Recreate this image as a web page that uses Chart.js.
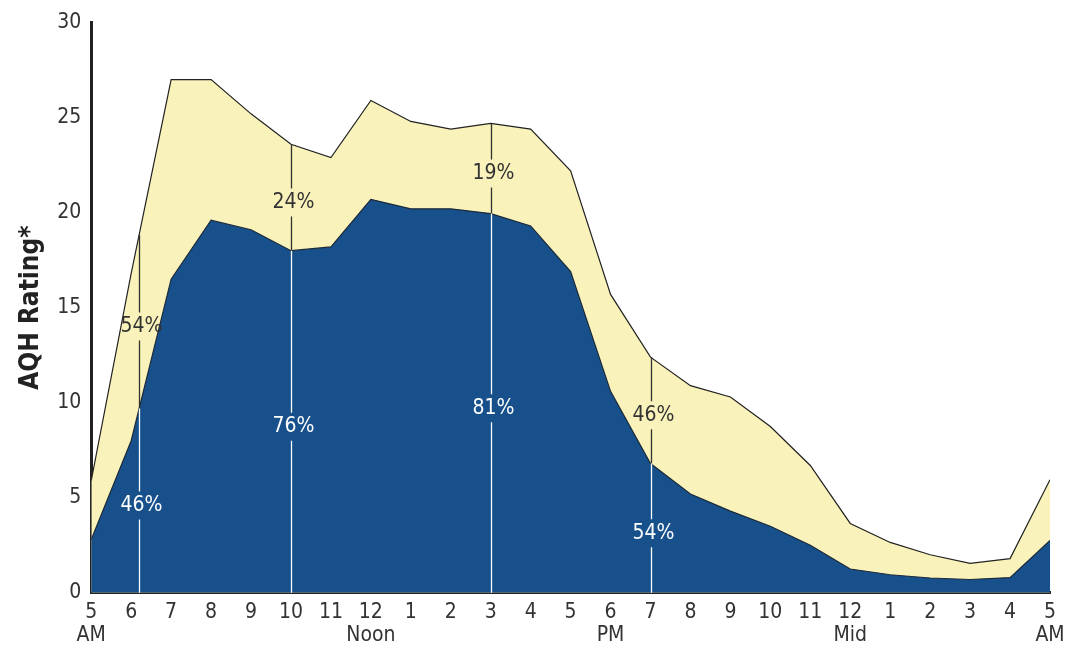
<!DOCTYPE html>
<html>
<head>
<meta charset="utf-8">
<script src="https://cdn.jsdelivr.net/npm/chart.js@4/dist/chart.umd.min.js"></script>
<style>
  body { margin: 0; background: #fff; }
  #wrap { width: 1077px; height: 655px; }
</style>
</head>
<body>
<div id="wrap"><canvas id="chart"></canvas></div>
<script>
const hourLabels = ['5','6','7','8','9','10','11','12','1','2','3','4','5','6','7','8','9','10','11','12','1','2','3','4','5'];
const periodLabels = ['AM','','','','','','','Noon','','','','','','PM','','','','','','Mid','','','','','AM'];
const totalRating = [5.9,16.8,27.0,27.0,25.2,23.6,22.9,25.9,24.8,24.4,24.7,24.4,22.2,15.7,12.4,10.9,10.3,8.75,6.7,3.65,2.65,2.0,1.55,1.8,5.95];
const homeRating = [2.8,8.0,16.5,19.6,19.1,18.0,18.2,20.7,20.2,20.2,19.95,19.3,16.9,10.6,6.8,5.2,4.3,3.5,2.5,1.25,0.95,0.78,0.7,0.8,2.75];
const markerHours = [1.2, 5, 10, 14];
const markerTopPct = ['54%', '24%', '19%', '46%'];
const markerBottomPct = ['46%', '76%', '81%', '54%'];

const FONT = "'Liberation Sans Narrow', 'DejaVu Sans Condensed', 'Liberation Sans', sans-serif";
const toPts = arr => arr.map((v, i) => ({ x: i, y: v }));
const interp = (arr, h) => {
  const i = Math.floor(h), f = h - i;
  return i >= arr.length - 1 ? arr[arr.length - 1] : arr[i] + (arr[i + 1] - arr[i]) * f;
};

// vertical share markers, line broken behind the text
const markerPlugin = {
  id: 'markers',
  afterDatasetsDraw(chart) {
    const { ctx, scales: { x, y } } = chart;
    ctx.save();
    ctx.font = '21px ' + FONT;
    ctx.textAlign = 'center';
    ctx.textBaseline = 'middle';
    markerHours.forEach((h, k) => {
      const px = Math.round(x.getPixelForValue(h)) + 0.5;
      const top = interp(totalRating, h), mid = interp(homeRating, h);
      const segs = [
        { from: y.getPixelForValue(top), to: y.getPixelForValue(mid), lab: markerTopPct[k], col: '#333' },
        { from: y.getPixelForValue(mid), to: y.getPixelForValue(0), lab: markerBottomPct[k], col: '#fff' }
      ];
      segs.forEach(s => {
        const ty = (s.from + s.to) / 2 + 5;
        const gap = 14;
        ctx.strokeStyle = s.col;
        ctx.lineWidth = 1.3;
        ctx.beginPath();
        ctx.moveTo(px, s.from); ctx.lineTo(px, ty - gap);
        ctx.moveTo(px, ty + gap); ctx.lineTo(px, s.to);
        ctx.stroke();
        ctx.fillStyle = s.col;
        ctx.fillText(s.lab, px + 2, ty);
      });
    });
    ctx.restore();
  }
};

new Chart(document.getElementById('chart'), {
  type: 'line',
  data: {
    datasets: [
      {
        data: toPts(homeRating),
        backgroundColor: '#17508b',
        borderColor: '#1c2a3a',
        borderWidth: 1.2,
        fill: 'origin',
        pointRadius: 0,
        tension: 0
      },
      {
        data: toPts(totalRating),
        backgroundColor: '#f9f2bb',
        borderColor: '#222',
        borderWidth: 1.2,
        fill: 'origin',
        pointRadius: 0,
        tension: 0
      }
    ]
  },
  options: {
    responsive: true,
    maintainAspectRatio: false,
    animation: false,
    layout: { padding: { top: 0, right: 27, left: 16, bottom: 0 } },
    plugins: { legend: { display: false }, tooltip: { enabled: false } },
    scales: {
      x: {
        type: 'linear',
        min: 0,
        max: 24,
        grid: { display: false, drawTicks: false },
        border: { display: true, color: '#222', width: 3 },
        ticks: {
          stepSize: 1,
          autoSkip: false,
          maxRotation: 0,
          padding: 8,
          color: '#333',
          font: { family: FONT, size: 21, lineHeight: 1.1 },
          callback: v => periodLabels[v] ? [hourLabels[v], periodLabels[v]] : hourLabels[v]
        }
      },
      y: {
        min: 0,
        max: 30,
        grid: { display: false, drawTicks: false },
        border: { display: true, color: '#222', width: 3 },
        ticks: {
          stepSize: 5,
          padding: 10,
          color: '#333',
          font: { family: FONT, size: 21 }
        },
        title: {
          display: true,
          text: 'AQH Rating*',
          color: '#222',
          padding: { top: 0, bottom: 0 },
          font: { family: FONT, size: 26, weight: 'bold' }
        }
      }
    }
  },
  plugins: [markerPlugin]
});
</script>
</body>
</html>
